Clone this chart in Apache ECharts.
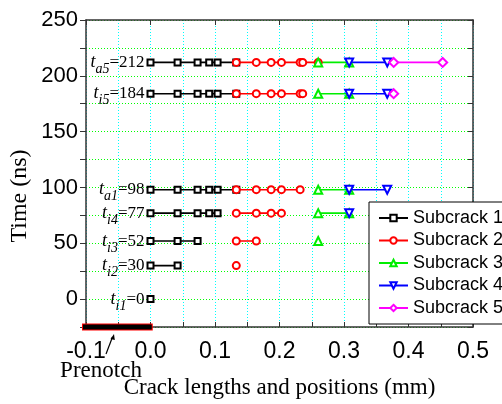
<!DOCTYPE html>
<html>
<head>
<meta charset="utf-8">
<script src="https://cdn.jsdelivr.net/npm/echarts@6/dist/echarts.min.js"></script>
<style>
html, body { margin: 0; padding: 0; background: #fff; }
#chart { width: 502px; height: 404px; }
</style>
</head>
<body>
<div id="chart"></div>
<script>
// time of each row (ns) and the subscript of its t label
var rowTimes = [0, 30, 52, 77, 98, 184, 212]
var rowTags = ['i1', 'i2', 'i3', 'i4', 'a1', 'i5', 'a5']

// crack tip positions (mm) per row, one array per subcrack
var subcrack1 = [
  [0],
  [0, 0.042],
  [0, 0.042, 0.073],
  [0, 0.042, 0.073, 0.091, 0.104],
  [0, 0.042, 0.073, 0.091, 0.104, 0.133],
  [0, 0.042, 0.073, 0.091, 0.104, 0.133],
  [0, 0.042, 0.073, 0.091, 0.104, 0.133]
]
var subcrack2 = [
  [],
  [0.133],
  [0.133, 0.164],
  [0.133, 0.164, 0.187, 0.203],
  [0.133, 0.164, 0.187, 0.203, 0.232],
  [0.133, 0.164, 0.187, 0.203, 0.232, 0.236],
  [0.133, 0.164, 0.187, 0.203, 0.232, 0.236, 0.26]
]
var subcrack3 = [[], [], [0.26], [0.26, 0.308], [0.26, 0.308], [0.26, 0.308], [0.26, 0.308]]
var subcrack4 = [[], [], [], [0.308], [0.308, 0.367], [0.308, 0.367], [0.308, 0.367]]
var subcrack5 = [[], [], [], [], [], [0.377], [0.377, 0.453]]
var legendNames = ['Subcrack 1', 'Subcrack 2', 'Subcrack 3', 'Subcrack 4', 'Subcrack 5']

// prenotch bar, drawn on the bottom axis (x range in mm, y = axis bottom)
var prenotch = [-0.1, 0.0]
var yBottom = -25

var serif = 'Liberation Serif'
var sans = 'Liberation Sans'

function rowLabel(i) {
  return {
    show: true,
    position: 'left',
    distance: 2,
    color: '#000',
    formatter: '{t|t}{s|' + rowTags[i] + '}{v|=' + rowTimes[i] + '}',
    rich: {
      t: { fontFamily: serif, fontStyle: 'italic', fontSize: 18, lineHeight: 18, color: '#000' },
      s: { fontFamily: serif, fontStyle: 'italic', fontSize: 14, lineHeight: 14, padding: [14, 0, 0, 0], color: '#000' },
      v: { fontFamily: serif, fontSize: 17, lineHeight: 18, color: '#000' }
    }
  }
}

function build(rows, labelled) {
  var out = []
  rows.forEach(function(xs, i) {
    xs.forEach(function(x, j) {
      if (labelled && j === 0) {
        out.push({ value: [x, rowTimes[i]], label: rowLabel(i) })
      } else {
        out.push([x, rowTimes[i]])
      }
    })
    out.push(['-', '-'])
  })
  return out
}

function makeSeries(name, rows, color, symbol, size, rotate, labelled) {
  return {
    name: name,
    type: 'line',
    z: 3,
    data: build(rows, labelled),
    symbol: symbol,
    symbolSize: size,
    symbolRotate: rotate,
    showAllSymbol: true,
    connectNulls: false,
    clip: false,
    lineStyle: { color: color, width: 1.6 },
    itemStyle: { color: color, borderWidth: 1.1 }
  }
}

function barSeries(color, width, pad0, pad1) {
  return {
    name: 'prenotch',
    type: 'line',
    z: 5,
    silent: true,
    clip: false,
    symbol: 'none',
    data: [[prenotch[0] - pad0, yBottom], [prenotch[1] + pad1, yBottom]],
    lineStyle: { color: color, width: width, cap: 'butt' }
  }
}

var series = [
  makeSeries('Subcrack 1', subcrack1, '#000000', 'emptyRect', 6, 0, true),
  makeSeries('Subcrack 2', subcrack2, '#ff0000', 'emptyCircle', 7, 0, false),
  makeSeries('Subcrack 3', subcrack3, '#00ee00', 'emptyTriangle', 8, 0, false),
  makeSeries('Subcrack 4', subcrack4, '#0000ff', 'emptyTriangle', 8, 180, false),
  makeSeries('Subcrack 5', subcrack5, '#ff00ff', 'emptyDiamond', 9, 0, false),
  barSeries('#ff0000', 7, 0.0078, 0.0035),
  barSeries('#000000', 5, 0.0062, 0.0019)
]

var axisLine = { show: true, onZero: false, lineStyle: { color: '#333', width: 1.5 } }
var dotted = [1, 2]

var option = {
  animation: false,
  backgroundColor: '#fff',
  grid: { left: 86, right: 29, top: 20, bottom: 72 },
  legend: {
    data: legendNames,
    orient: 'vertical',
    left: 369,
    top: 202,
    padding: [7, 9, 7, 9],
    itemGap: 4.5,
    itemWidth: 29,
    itemHeight: 8,
    backgroundColor: '#fff',
    borderColor: '#000',
    borderWidth: 1,
    borderRadius: 0,
    textStyle: { fontFamily: sans, fontSize: 18, lineHeight: 18, color: '#000' }
  },
  xAxis: [
    {
      type: 'value',
      min: -0.1,
      max: 0.5,
      interval: 0.05,
      name: 'Crack lengths and positions (mm)',
      nameLocation: 'middle',
      nameGap: 49,
      nameTextStyle: { fontFamily: serif, fontSize: 23, color: '#000' },
      axisLine: axisLine,
      axisTick: { show: true, inside: true, length: 5, lineStyle: { color: '#333' } },
      axisLabel: {
        margin: 13,
        fontFamily: sans,
        fontSize: 23,
        color: '#000',
        formatter: function(v) {
          var k = Math.round(v * 20)
          if (k % 2 !== 0) return ''
          return (k / 20).toFixed(1)
        }
      },
      splitLine: { show: true, lineStyle: { color: '#00ffff', type: dotted, width: 1 } }
    },
    {
      type: 'value',
      position: 'top',
      min: -0.1,
      max: 0.5,
      interval: 0.1,
      axisLine: axisLine,
      axisTick: { show: true, inside: true, length: 5, lineStyle: { color: '#333' } },
      axisLabel: { show: false },
      splitLine: { show: false }
    }
  ],
  yAxis: [
    {
      type: 'value',
      min: -25,
      max: 250,
      interval: 25,
      axisLine: axisLine,
      axisTick: { show: true, inside: false, length: 6, lineStyle: { color: '#333' } },
      axisLabel: {
        margin: 8,
        fontFamily: sans,
        fontSize: 22,
        color: '#000',
        formatter: function(v) {
          return v % 50 === 0 ? String(v) : ''
        }
      },
      splitLine: { show: true, lineStyle: { color: '#00ff00', type: dotted, width: 1 } }
    },
    {
      type: 'value',
      position: 'right',
      min: -25,
      max: 250,
      interval: 25,
      axisLine: axisLine,
      axisTick: { show: true, inside: true, length: 5, lineStyle: { color: '#333' } },
      axisLabel: { show: false },
      splitLine: { show: false }
    }
  ],
  graphic: [
    {
      type: 'text',
      x: 20,
      y: 196,
      rotation: Math.PI / 2,
      style: { text: 'Time (ns)', font: '24px "Liberation Serif"', fill: '#000', textAlign: 'center', textVerticalAlign: 'middle' }
    },
    {
      type: 'text',
      x: 101,
      y: 371,
      style: { text: 'Prenotch', font: '23px "Liberation Serif"', fill: '#000', textAlign: 'center', textVerticalAlign: 'middle' }
    },
    {
      type: 'line',
      shape: { x1: 106, y1: 354, x2: 112.5, y2: 337 },
      style: { stroke: '#000', lineWidth: 1.2 }
    },
    {
      type: 'polygon',
      shape: { points: [[114, 334], [110.5, 339], [114.8, 340]] },
      style: { fill: '#000' }
    }
  ],
  series: series
}

var chart = echarts.init(document.getElementById('chart'))
chart.setOption(option, true)
window.addEventListener('resize', function() {
  chart.resize()
})
</script>
</body>
</html>
